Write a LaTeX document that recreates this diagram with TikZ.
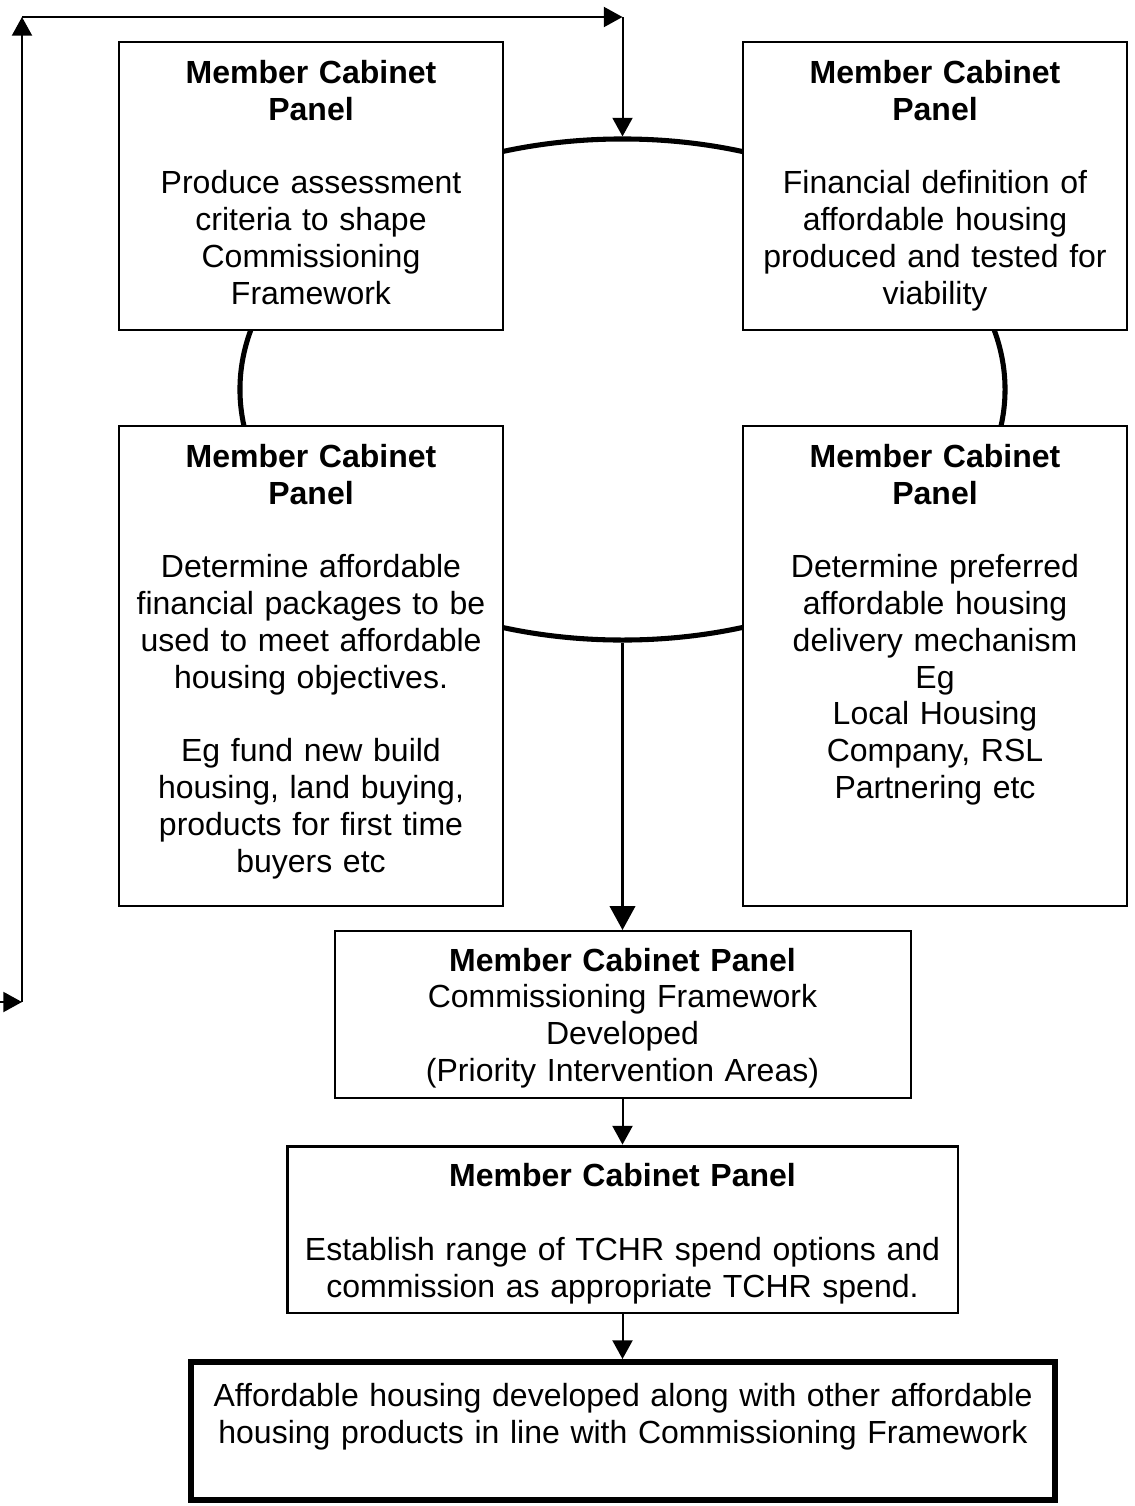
\documentclass[tikz,border=0pt]{standalone}
\usepackage{fontspec}
\setmainfont{Liberation Sans}
\usetikzlibrary{arrows.meta,positioning,shapes.geometric}

\begin{document}
\begin{tikzpicture}[x=0.375pt,y=-0.375pt,font=\fontsize{12}{13.8}\selectfont,
  panel/.style={draw,fill=white,line width=0.75pt,inner sep=0pt},
  paneltext/.style={align=center,inner sep=0pt},
  flow/.style={-{Triangle[width=7.5pt,length=7pt]},line width=0.75pt}]
\useasboundingbox (0,0) rectangle (1135,1506);
% ring behind the four panels
\node[ellipse,draw,line width=1.9pt,minimum width=286.9pt,minimum height=187.9pt,inner sep=0pt] (ring) at (622.5,389.5) {};
\node[panel,minimum width=144pt,minimum height=108pt] (criteria) at (311,186) {};
\node[panel,minimum width=144pt,minimum height=108pt] (definition) at (935,186) {};
\node[panel,minimum width=144pt,minimum height=180pt] (packages) at (311,666) {};
\node[panel,minimum width=144pt,minimum height=180pt] (mechanism) at (935,666) {};
\node[panel,minimum width=216pt,minimum height=62.6pt] (framework) at (622.5,1014.5) {};
\node[panel,line width=1.1pt,minimum width=251.6pt,minimum height=62.6pt] (tchr) at (622.5,1229.5) {};
\node[panel,line width=2.25pt,minimum width=324pt,minimum height=51.75pt] (outcome) at (623,1431) {};
% texts
\node[paneltext,text width=138pt,below=7pt of criteria.north] (criteriatext)
  {\textbf{Member Cabinet\\Panel}\\[13.8pt]Produce assessment\\criteria to shape\\Commissioning\\Framework};
\node[paneltext,text width=138pt,below=7pt of definition.north] (definitiontext)
  {\textbf{Member Cabinet\\Panel}\\[13.8pt]Financial definition of\\affordable housing\\produced and tested for\\viability};
\node[paneltext,text width=138pt,below=7pt of packages.north] (packagestext)
  {\textbf{Member Cabinet\\Panel}\\[13.8pt]Determine affordable\\financial packages to be\\used to meet affordable\\housing objectives.\\[13.8pt]Eg fund new build\\housing, land buying,\\products for first time\\buyers etc};
\node[paneltext,text width=138pt,below=7pt of mechanism.north] (mechanismtext)
  {\textbf{Member Cabinet\\Panel}\\[13.8pt]Determine preferred\\affordable housing\\delivery mechanism\\Eg\\Local Housing\\Company, RSL\\Partnering etc};
\node[paneltext,text width=210pt,below=6.5pt of framework.north] (frameworktext)
  {\textbf{Member Cabinet Panel}\\Commissioning Framework\\Developed\\(Priority Intervention Areas)};
\node[paneltext,text width=245pt,below=7pt of tchr.north] (tchrtext)
  {\textbf{Member Cabinet Panel}\\[13.8pt]Establish range of TCHR spend options and\\commission as appropriate TCHR spend.};
\node[paneltext,text width=318pt,below=9pt of outcome.north] (outcometext)
  {Affordable housing developed along with other affordable\\housing products in line with Commissioning Framework};
% main flow
\draw[flow,line width=1.1pt,-{Triangle[width=9.5pt,length=9pt]}] (ring.south) -- (ring.south |- framework.north);
\draw[flow] (framework.south) -- (framework.south |- tchr.north);
\draw[flow] (tchr.south) -- (tchr.south |- outcome.north);
% feedback loop
\coordinate (fbtail) at (0,1002);
\coordinate (fbcorner) at (22,1002);
\coordinate (fbtop) at (22,17);
\coordinate (fbright) at (ring.north |- fbtop);
\draw[flow] (fbtail) -- (fbcorner);
\draw[flow] (fbcorner) -- (fbtop);
\draw[flow] (fbtop) -- (fbright);
\draw[flow] (fbright) -- (ring.north);
\end{tikzpicture}
\end{document}
